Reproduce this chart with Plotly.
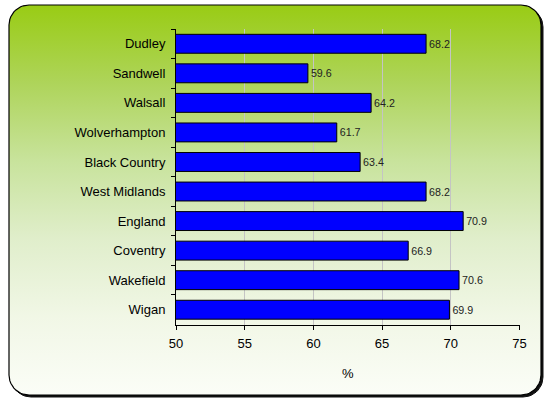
import numpy as np
import plotly.graph_objects as go

categories = ["Dudley", "Sandwell", "Walsall", "Wolverhampton", "Black Country",
              "West Midlands", "England", "Coventry", "Wakefield", "Wigan"]
values = [68.2, 59.6, 64.2, 61.7, 63.4, 68.2, 70.9, 66.9, 70.6, 69.9]
x_ticks = [50, 55, 60, 65, 70, 75]

W, H = 548, 401


def rounded_rect(x0, y0, x1, y1, r, n=12):
    xs, ys = [], []
    corners = [(x1 - r, y0 + r, -90, 0), (x1 - r, y1 - r, 0, 90),
               (x0 + r, y1 - r, 90, 180), (x0 + r, y0 + r, 180, 270)]
    for cx, cy, a0, a1 in corners:
        t = np.radians(np.linspace(a0, a1, n))
        xs.extend(cx + r * np.cos(t))
        ys.extend(cy + r * np.sin(t))
    xs.append(xs[0]); ys.append(ys[0])
    return xs, ys


fig = go.Figure()

# shadow
sx, sy = rounded_rect(11, 7, 543, 397, 20)
fig.add_trace(go.Scatter(x=sx, y=sy, fill="toself", fillcolor="#111111",
                         line=dict(color="#111111", width=1), mode="lines",
                         hoverinfo="skip", showlegend=False, xaxis="x", yaxis="y"))
# background panel
bx, by = rounded_rect(9, 5, 541, 395, 20)
fig.add_trace(go.Scatter(
    x=bx, y=by, fill="toself", mode="lines",
    line=dict(color="#000000", width=1.2),
    fillgradient=dict(type="vertical", start=5, stop=395,
                      colorscale=[[0, "#99cc14"], [0.2, "#aed45a"], [0.4, "#c8e39c"],
                                  [0.6, "#e0eecb"], [0.8, "#f1f7e6"], [1, "#fbfdf7"]]),
    hoverinfo="skip", showlegend=False, xaxis="x", yaxis="y"))

fig.add_trace(go.Bar(
    x=values, y=categories, orientation="h", xaxis="x2", yaxis="y2",
    marker=dict(color="#0000ff", line=dict(color="#000000", width=1)),
    texttemplate="%{x:.1f}", textposition="outside",
    textfont=dict(size=10.7, color="#222222", family="Arial, Liberation Sans"),
    cliponaxis=False, showlegend=False, hoverinfo="skip"))

x0p, x1p = 176 / W, 519.5 / W
y0p, y1p = 1 - 324.5 / H, 1 - 29 / H

fig.update_layout(
    width=W, height=H, margin=dict(l=0, r=0, t=0, b=0, autoexpand=False),
    paper_bgcolor="white", plot_bgcolor="rgba(0,0,0,0)",
    font=dict(family="Arial, Liberation Sans", size=13, color="#000000"),
    bargap=0.36,
    xaxis=dict(domain=[0, 1], range=[0, W], visible=False, fixedrange=True),
    yaxis=dict(domain=[0, 1], range=[H, 0], visible=False, fixedrange=True),
    xaxis2=dict(domain=[x0p, x1p], anchor="y2", range=[50, 75], tickvals=x_ticks,
                showgrid=True, gridcolor="#c4c4c4", gridwidth=1, zeroline=False,
                showline=True, linecolor="#000000", linewidth=1,
                ticks="outside", ticklen=4, tickcolor="#000000", automargin=False,
                ticklabelstandoff=3,
                title=dict(text="%", standoff=18, font=dict(size=13))),
    yaxis2=dict(domain=[y0p, y1p], anchor="x2", autorange="reversed",
                showgrid=False, showline=True, linecolor="#000000", linewidth=1,
                ticks="outside", ticklen=4, tickcolor="#000000", tickson="boundaries",
                ticklabelstandoff=7, automargin=False),
)

fig.write_html("out.html", config={"displayModeBar": False},
               post_script="document.body.style.margin='0';document.body.style.overflow='hidden';")
